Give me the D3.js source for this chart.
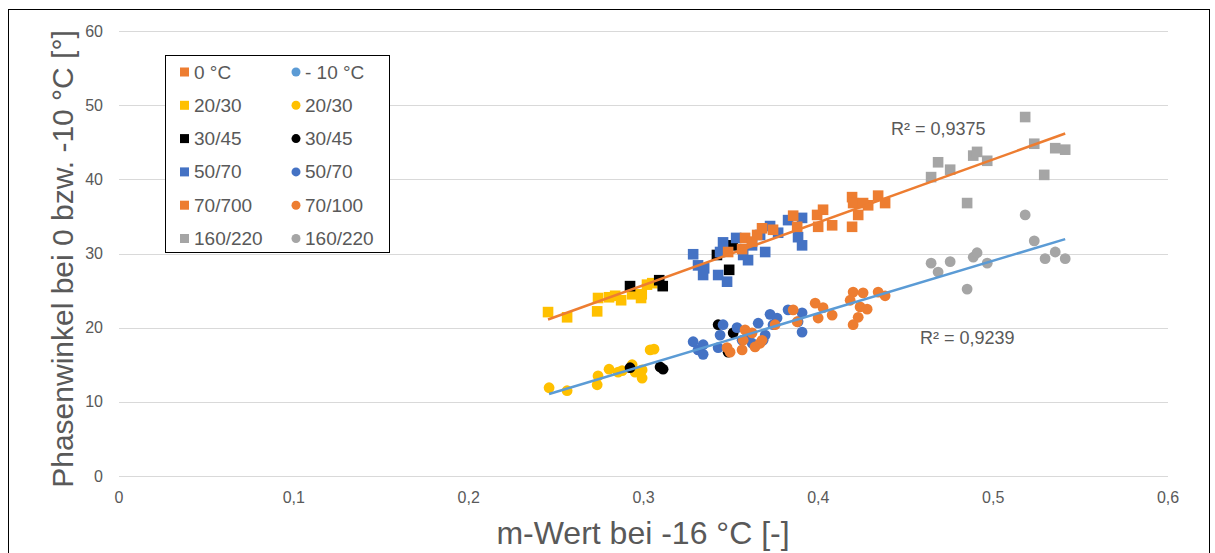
<!DOCTYPE html>
<html>
<head>
<meta charset="utf-8">
<script src="https://cdn.jsdelivr.net/npm/d3@7"></script>
<style>
body { margin: 0; background: #fff; }
text { font-family: "Liberation Sans", Arial, sans-serif; }
</style>
</head>
<body>
<div id="chart"></div>
<script>
// values: [m-Wert, Phasenwinkel]
var sq2030 = [[0.2454,22.1],[0.2563,21.4],[0.2735,22.2],[0.274,24.0],[0.2803,24.1],[0.2838,24.3],[0.2872,23.7],[0.2935,24.5],[0.2986,24.0],[0.299,24.5],[0.302,25.8],[0.305,26.0]];
var ci2030 = [[0.246,11.9],[0.2563,11.5],[0.2735,12.3],[0.274,13.5],[0.2803,14.4],[0.2855,14.0],[0.2878,14.2],[0.2935,15.0],[0.2952,14.0],[0.2992,14.3],[0.2992,13.2],[0.3038,17.0],[0.306,17.1]];
var sq3045 = [[0.2923,25.6],[0.309,26.4],[0.311,25.6],[0.342,29.8],[0.351,31.1],[0.349,27.8]];
var ci3045 = [[0.2923,14.6],[0.3095,14.7],[0.3112,14.4],[0.3427,20.4],[0.3513,19.3],[0.3484,16.7]];
var sq5070 = [[0.3284,29.9],[0.3312,28.4],[0.3347,28.0],[0.3341,27.1],[0.3427,27.1],[0.3478,26.2],[0.3455,31.5],[0.3438,30.2],[0.353,32.1],[0.357,29.8],[0.3598,29.1],[0.3621,31.1],[0.3667,32.5],[0.3696,30.2],[0.3724,33.7],[0.377,32.8],[0.3827,34.5],[0.3907,34.8],[0.3884,32.2],[0.3907,31.1]];
var ci5070 = [[0.3284,18.1],[0.3312,17.0],[0.3341,16.4],[0.3341,17.7],[0.3427,17.3],[0.3438,19.0],[0.3455,20.4],[0.3535,20.0],[0.3564,18.3],[0.3593,18.7],[0.3621,17.9],[0.3656,20.6],[0.3696,19.0],[0.3684,18.3],[0.3724,21.8],[0.3764,21.3],[0.3741,20.4],[0.3827,22.4],[0.3907,22.0],[0.3884,20.8],[0.3907,19.4]];
var sq70700 = [[0.3484,30.2],[0.3564,30.6],[0.3581,32.1],[0.3621,31.6],[0.365,32.5],[0.3678,33.4],[0.3741,33.2],[0.3856,35.1],[0.3879,33.6],[0.3993,35.2],[0.4027,35.9],[0.3999,33.6],[0.4079,33.8],[0.4193,37.6],[0.4199,36.8],[0.4228,35.2],[0.4193,33.6],[0.4256,36.8],[0.4285,36.5],[0.4342,37.8],[0.4382,36.8]];
var ci70100 = [[0.3478,17.3],[0.3495,16.7],[0.3564,17.0],[0.3581,19.7],[0.357,18.3],[0.3621,19.3],[0.3638,17.4],[0.3667,17.9],[0.3678,18.3],[0.3753,20.4],[0.3856,22.4],[0.3879,20.8],[0.3982,23.3],[0.4027,22.7],[0.3999,21.3],[0.4079,21.7],[0.4199,24.8],[0.4182,23.7],[0.4256,24.7],[0.4239,22.8],[0.4279,22.5],[0.4228,21.4],[0.4199,20.4],[0.4342,24.8],[0.4382,24.3]];
var sq160220 = [[0.4645,40.3],[0.4685,42.3],[0.4754,41.3],[0.4851,36.8],[0.4886,43.2],[0.4908,43.7],[0.4966,42.5],[0.5183,48.4],[0.5235,44.8],[0.5292,40.6],[0.5355,44.2],[0.5412,44.0]];
var ci160220 = [[0.4645,28.7],[0.4685,27.5],[0.4754,28.9],[0.4851,25.2],[0.4886,29.5],[0.4908,30.1],[0.4966,28.7],[0.5183,35.2],[0.5235,31.7],[0.5297,29.3],[0.5355,30.2],[0.5412,29.3]];

var legendLeft = ["0 °C", "20/30", "30/45", "50/70", "70/700", "160/220"];
var legendRight = ["- 10 °C", "20/30", "30/45", "50/70", "70/100", "160/220"];
var legendColors = ["#ed7d31", "#ffc000", "#000000", "#4472c4", "#ed7d31", "#a5a5a5"];
var legendColorsRight = ["#5b9bd5", "#ffc000", "#000000", "#4472c4", "#ed7d31", "#a5a5a5"];

var xTicks = [0, 0.1, 0.2, 0.3, 0.4, 0.5, 0.6];
var xTickLabels = ["0", "0,1", "0,2", "0,3", "0,4", "0,5", "0,6"];
var yTicks = [0, 10, 20, 30, 40, 50, 60];
var r2Labels = ["R² = 0,9375", "R² = 0,9239"];

var width = 1215, height = 553;
// plot area ("top" is taken by window.top, so different names)
var plotL = 119, plotR = 1168, plotT = 31, plotB = 476;

var svg = d3.select("#chart").append("svg")
	.attr("width", width)
	.attr("height", height);

// outer frame
svg.append("rect")
	.attr("x", 8.5).attr("y", 9.5)
	.attr("width", 1201).attr("height", 570)
	.attr("fill", "none")
	.attr("stroke", "#000")
	.attr("stroke-width", 1);

var xScale = d3.scaleLinear().domain([0, 0.6]).range([plotL, plotR]);
var yScale = d3.scaleLinear().domain([0, 60]).range([plotB, plotT]);

// gridlines
svg.append("g").selectAll("line")
	.data(yTicks)
	.enter()
	.append("line")
	.attr("x1", plotL).attr("x2", plotR)
	.attr("y1", function(d) { return Math.round(yScale(d)) + 0.5; })
	.attr("y2", function(d) { return Math.round(yScale(d)) + 0.5; })
	.attr("stroke", "#d9d9d9")
	.attr("stroke-width", 1);

svg.append("g").selectAll("text")
	.data(yTicks)
	.enter()
	.append("text")
	.attr("x", 103)
	.attr("y", function(d) { return yScale(d) + 5.5; })
	.attr("text-anchor", "end")
	.attr("font-size", 16)
	.attr("fill", "#595959")
	.text(function(d) { return d; });

svg.append("g").selectAll("text")
	.data(xTicks)
	.enter()
	.append("text")
	.attr("x", function(d) { return xScale(d); })
	.attr("y", 503)
	.attr("text-anchor", "middle")
	.attr("font-size", 16)
	.attr("fill", "#595959")
	.text(function(d, i) { return xTickLabels[i]; });

// axis titles
svg.append("text")
	.attr("x", 643).attr("y", 544)
	.attr("text-anchor", "middle")
	.attr("font-size", 32)
	.attr("fill", "#595959")
	.text("m-Wert bei -16 °C [-]");

svg.append("text")
	.attr("transform", "translate(73,259) rotate(-90)")
	.attr("text-anchor", "middle")
	.attr("font-size", 30)
	.attr("fill", "#595959")
	.text("Phasenwinkel bei 0 bzw. -10 °C [°]");

var plot = svg.append("g");

function squares(data, color) {
	plot.append("g").selectAll("rect")
		.data(data)
		.enter()
		.append("rect")
		.attr("x", function(d) { return xScale(d[0]) - 5.3; })
		.attr("y", function(d) { return yScale(d[1]) - 5.3; })
		.attr("width", 10.6)
		.attr("height", 10.6)
		.attr("fill", color);
}

function circles(data, color) {
	plot.append("g").selectAll("circle")
		.data(data)
		.enter()
		.append("circle")
		.attr("cx", function(d) { return xScale(d[0]); })
		.attr("cy", function(d) { return yScale(d[1]); })
		.attr("r", 5.4)
		.attr("fill", color);
}

squares(sq2030, "#ffc000");
circles(ci2030, "#ffc000");
squares(sq3045, "#000000");
circles(ci3045, "#000000");
squares(sq5070, "#4472c4");
circles(ci5070, "#4472c4");
squares(sq70700, "#ed7d31");
circles(ci70100, "#ed7d31");
squares(sq160220, "#a5a5a5");
circles(ci160220, "#a5a5a5");

// linear trendlines over all squares (0 °C) and all circles (-10 °C)
function fit(data) {
	var mx = d3.mean(data, function(d) { return d[0]; });
	var my = d3.mean(data, function(d) { return d[1]; });
	var sxy = d3.sum(data, function(d) { return (d[0] - mx) * (d[1] - my); });
	var sxx = d3.sum(data, function(d) { return (d[0] - mx) * (d[0] - mx); });
	var b = sxy / sxx, a = my - b * mx;
	var x0 = d3.min(data, function(d) { return d[0]; });
	var x1 = d3.max(data, function(d) { return d[0]; });
	return [[x0, a + b * x0], [x1, a + b * x1]];
}

var allSquares = [].concat(sq2030, sq3045, sq5070, sq70700, sq160220);
var allCircles = [].concat(ci2030, ci3045, ci5070, ci70100, ci160220);

var line = d3.line()
	.x(function(d) { return xScale(d[0]); })
	.y(function(d) { return yScale(d[1]); });

plot.append("path")
	.attr("d", line(fit(allSquares)))
	.attr("fill", "none")
	.attr("stroke", "#ed7d31")
	.attr("stroke-width", 2.5);

plot.append("path")
	.attr("d", line(fit(allCircles)))
	.attr("fill", "none")
	.attr("stroke", "#5b9bd5")
	.attr("stroke-width", 2.5);

svg.append("text")
	.attr("x", 891).attr("y", 135)
	.attr("font-size", 18)
	.attr("fill", "#595959")
	.text(r2Labels[0]);

svg.append("text")
	.attr("x", 920).attr("y", 344)
	.attr("font-size", 18)
	.attr("fill", "#595959")
	.text(r2Labels[1]);

// legend
var legend = svg.append("g");
legend.append("rect")
	.attr("x", 165.5).attr("y", 55.5)
	.attr("width", 224).attr("height", 197)
	.attr("fill", "#fff")
	.attr("stroke", "#000")
	.attr("stroke-width", 1);

legendLeft.forEach(function(name, i) {
	var cy = 72 + i * 33.3;
	legend.append("rect")
		.attr("x", 180).attr("y", cy - 4.5)
		.attr("width", 9).attr("height", 9)
		.attr("fill", legendColors[i]);
	legend.append("text")
		.attr("x", 194).attr("y", cy + 6.5)
		.attr("font-size", 19)
		.attr("fill", "#595959")
		.text(name);
});

legendRight.forEach(function(name, i) {
	var cy = 72 + i * 33.3;
	legend.append("circle")
		.attr("cx", 296).attr("cy", cy)
		.attr("r", 4.5)
		.attr("fill", legendColorsRight[i]);
	legend.append("text")
		.attr("x", 305).attr("y", cy + 6.5)
		.attr("font-size", 19)
		.attr("fill", "#595959")
		.text(name);
});
</script>
</body>
</html>
